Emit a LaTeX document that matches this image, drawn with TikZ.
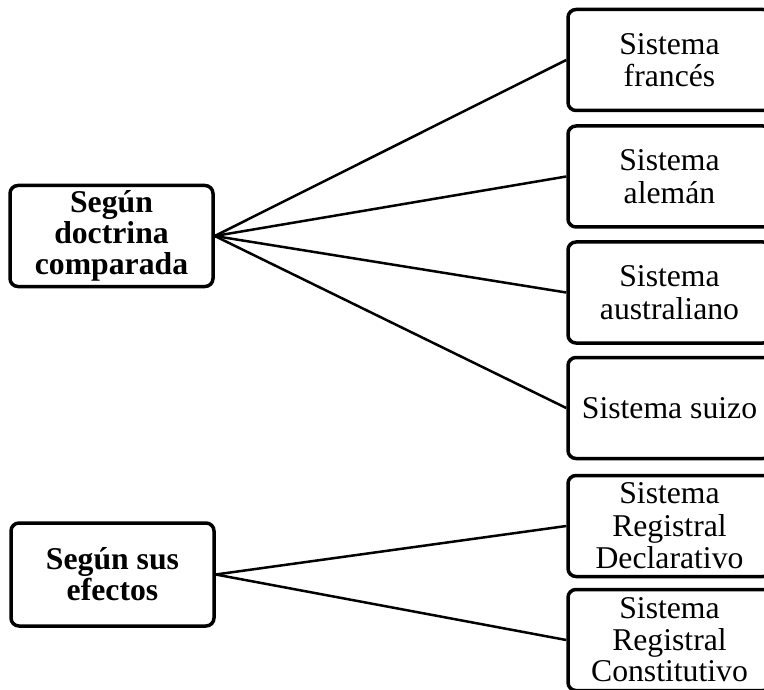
\documentclass[tikz,border=0pt]{standalone}
\usepackage{fontspec}
\setmainfont{Liberation Serif}
\begin{document}
\begin{tikzpicture}[x=1pt,y=-1pt,
  box/.style={draw=black,line width=3.5pt,rounded corners=8pt,fill=white,
    minimum width=203pt,minimum height=101pt,inner sep=0pt,align=center,
    font=\fontsize{31.7}{32.5}\selectfont},
  lbox/.style={box,font=\fontsize{31.7}{31}\selectfont\bfseries},
  conn/.style={line width=2.5pt,draw=black}]
\clip (0,0) rectangle (764,690);
\fill[white] (0,0) rectangle (764,690);
\node[lbox] (l1) at (111.5,236) {Según\\doctrina\\comparada};
\node[lbox,minimum height=103pt] (l2) at (112.5,574.5) {Según sus\\efectos};
\node[box] (r1) at (669.5,60) {Sistema\\francés};
\node[box] (r2) at (669.5,176.5) {Sistema\\alemán};
\node[box] (r3) at (669.5,292.5) {Sistema\\australiano};
\node[box] (r4) at (669.5,408) {Sistema suizo};
\node[box] (r5) at (669.5,526) {Sistema\\Registral\\Declarativo};
\node[box,font=\fontsize{31.7}{31.5}\selectfont] (r6) at (669.5,640) {Sistema\\Registral\\Constitutivo};
\foreach \t in {r1,r2,r3,r4} \draw[conn] (l1.east) -- (\t.west);
\foreach \t in {r5,r6} \draw[conn] (l2.east) -- (\t.west);
\end{tikzpicture}
\end{document}
